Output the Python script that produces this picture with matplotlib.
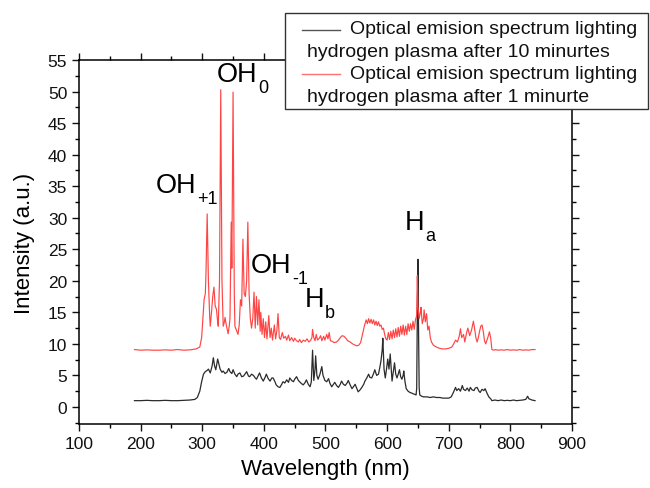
import matplotlib
matplotlib.use("Agg")
import matplotlib.pyplot as plt
from matplotlib.lines import Line2D
from matplotlib.patches import Rectangle
from matplotlib.ticker import MultipleLocator

plt.rcParams['font.family'] = ['Liberation Sans', 'DejaVu Sans']

# ---- data: 10 minutes (black) ----
wl_10min = [190, 200, 210, 220, 230, 240, 250, 260, 270, 280, 288, 292, 296, 299, 302, 305, 308, 310, 313, 316,
            318, 320, 322, 325, 327, 329, 332, 334, 337, 340, 343, 345, 348, 350, 353, 356, 358, 361, 364, 367,
            370, 372, 375, 377, 380, 383, 386, 388, 391, 393, 396, 399, 402, 404, 407, 410, 413, 415, 418, 420,
            423, 426, 429, 431, 434, 437, 440, 442, 445, 448, 450, 453, 456, 458, 461, 464, 467, 469, 472, 475,
            477, 479, 481, 483, 484, 486, 488, 491, 494, 496, 499, 502, 505, 507, 510, 513, 515, 518, 521, 524,
            526, 529, 532, 535, 537, 540, 543, 546, 548, 551, 553, 556, 559, 562, 564, 567, 570, 572, 575, 578,
            580, 583, 586, 588, 590, 592, 593, 595, 597, 599, 601, 603, 605, 607, 608, 610, 612, 614, 616, 618,
            620, 622, 624, 626, 627, 629, 631, 634, 637, 640, 642, 645, 647, 648, 649, 650, 651, 652, 653, 656,
            659, 665, 670, 675, 680, 686, 690, 695, 700, 704, 708, 711, 713, 716, 719, 722, 724, 727, 730, 733,
            735, 738, 741, 743, 746, 749, 751, 754, 757, 759, 762, 765, 768, 770, 775, 780, 785, 790, 795, 800,
            805, 810, 815, 820, 825, 828, 830, 835, 840]
int_10min = [1.0, 1.0, 1.05, 1.0, 1.0, 1.05, 1.0, 1.0, 1.05, 1.1, 1.2, 1.5, 2.5, 4.0, 5.2, 5.6, 5.8, 6.0, 5.4, 6.5,
             7.8, 6.5, 5.9, 7.6, 6.8, 6.0, 5.5, 5.7, 5.3, 5.5, 6.1, 5.6, 5.3, 5.9, 5.2, 4.8, 5.2, 5.4, 4.8, 4.9,
             5.3, 5.6, 4.9, 4.8, 5.2, 5.0, 4.6, 4.4, 5.0, 5.4, 4.6, 4.1, 4.7, 5.2, 4.5, 4.1, 4.6, 4.6, 4.0, 3.5,
             3.2, 3.1, 3.6, 4.0, 3.8, 4.3, 3.9, 4.6, 4.2, 4.0, 4.4, 4.8, 4.2, 4.0, 3.7, 3.5, 3.9, 4.3, 3.6, 3.2,
             4.0, 9.0, 4.2, 6.0, 8.1, 5.0, 4.4, 5.2, 6.4, 5.0, 4.2, 4.0, 4.5, 3.8, 3.2, 3.6, 3.9, 3.4, 3.1, 3.6,
             4.1, 3.6, 3.4, 3.8, 4.2, 3.5, 2.9, 3.3, 3.6, 2.9, 2.4, 2.7, 3.1, 3.6, 4.1, 4.6, 5.2, 4.7, 4.6, 5.3,
             5.9, 5.0, 5.2, 6.2, 7.3, 9.0, 10.9, 6.0, 4.6, 6.0, 7.6, 6.0, 8.4, 5.5, 4.1, 5.5, 7.0, 5.2, 4.6, 5.2,
             5.9, 4.8, 4.4, 5.0, 5.7, 4.0, 2.9, 2.5, 2.3, 2.2, 2.1, 2.0, 1.9, 3.0, 15.0, 23.4, 12.0, 3.0, 1.9, 1.7,
             1.6, 1.6, 1.5, 1.6, 1.5, 1.5, 1.4, 1.4, 1.4, 1.6, 2.4, 3.1, 2.6, 2.9, 2.5, 3.4, 2.8, 2.6, 3.0, 2.5,
             3.1, 2.7, 2.6, 3.0, 3.1, 2.5, 2.3, 2.8, 2.6, 2.9, 2.2, 1.6, 1.3, 1.0, 1.1, 1.0, 1.1, 1.0, 1.05, 1.0,
             1.1, 1.0, 1.05, 1.1, 1.2, 1.7, 1.3, 1.1, 1.0]

# ---- data: 1 minute (red) ----
wl_1min = [190, 200, 210, 220, 230, 240, 250, 260, 270, 280, 290, 296, 299, 301, 303, 305, 306, 308, 310, 312,
           313, 315, 317, 319, 321, 323, 325, 326, 328, 330, 332, 334, 336, 337, 339, 342, 344, 345, 347, 348,
           350, 352, 353, 356, 358, 360, 362, 364, 366, 368, 370, 372, 374, 376, 378, 380, 382, 384, 386, 388,
           390, 392, 394, 395, 397, 399, 401, 403, 405, 408, 410, 412, 414, 417, 419, 421, 423, 425, 427, 430,
           432, 435, 437, 440, 442, 445, 448, 450, 453, 456, 458, 461, 464, 467, 470, 473, 476, 478, 479, 481,
           483, 485, 487, 490, 492, 494, 497, 499, 502, 504, 506, 508, 511, 514, 518, 521, 524, 527, 530, 533,
           536, 540, 544, 548, 551, 554, 557, 560, 563, 566, 568, 570, 572, 574, 576, 578, 580, 582, 584, 586,
           588, 590, 592, 594, 596, 598, 600, 602, 604, 606, 608, 610, 612, 614, 616, 618, 620, 622, 624, 626,
           628, 630, 632, 634, 636, 638, 640, 642, 644, 646, 648, 649, 650, 652, 654, 655, 657, 659, 660, 662,
           664, 666, 668, 670, 672, 675, 680, 685, 690, 695, 700, 705, 708, 711, 714, 717, 719, 721, 724, 726,
           729, 731, 734, 737, 740, 742, 744, 746, 748, 750, 752, 754, 756, 758, 760, 762, 764, 766, 768, 770,
           773, 776, 780, 785, 790, 795, 800, 805, 810, 815, 820, 825, 830, 835, 840]
int_1min = [9.1, 9.0, 9.05, 9.0, 9.0, 9.05, 9.0, 9.1, 9.0, 9.05, 9.2, 9.5, 11.0, 14.0, 17.0, 18.0, 21.0, 30.6, 20.0, 14.5,
            12.8, 15.0, 17.5, 19.0, 16.0, 15.5, 13.5, 12.8, 20.0, 50.3, 20.0, 12.8, 13.5, 14.2, 13.0, 11.6, 13.0, 14.0, 29.3, 22.0,
            49.9, 18.0, 12.8, 12.0, 11.5, 13.0, 17.0, 16.0, 26.6, 18.0, 17.5, 20.0, 29.3, 18.0, 14.0, 12.5, 14.0, 18.2, 12.5, 17.5,
            13.0, 17.0, 12.0, 15.0, 11.5, 14.0, 11.0, 13.5, 10.8, 14.5, 11.0, 12.5, 10.6, 13.0, 10.8, 12.0, 14.8, 11.0, 10.7, 11.8,
            10.9, 11.2, 10.6, 11.4, 10.5, 11.0, 10.4, 10.9, 10.5, 10.3, 10.7, 10.2, 10.6, 10.4, 10.8, 10.3, 10.6, 11.0, 12.3, 11.0,
            10.5, 11.5, 10.6, 10.9, 11.3, 10.5, 11.2, 10.6, 11.5, 10.8, 11.8, 10.5, 10.4, 10.2, 10.3, 10.6, 11.0, 11.3, 11.2, 10.9,
            10.5, 10.3, 10.0, 9.8, 9.7, 9.8, 10.2, 11.5, 12.8, 13.8, 13.2, 14.0, 13.3, 13.9, 13.2, 13.8, 13.0, 13.6, 12.9, 13.5,
            12.8, 13.0, 12.3, 12.5, 11.5, 10.8, 10.6, 11.8, 10.7, 12.0, 10.8, 12.2, 11.0, 12.4, 11.1, 12.6, 11.2, 12.8, 11.5, 13.0,
            11.4, 12.8, 11.5, 13.2, 12.0, 13.2, 12.2, 13.6, 12.3, 13.8, 14.5, 20.8, 16.0, 14.0, 15.0, 15.8, 13.2, 14.0, 15.4, 13.5,
            14.8, 12.2, 12.8, 11.0, 10.3, 9.8, 9.5, 9.3, 9.2, 9.2, 9.3, 9.5, 10.0, 10.6, 10.3, 11.2, 12.4, 11.0, 11.5, 10.3,
            11.8, 12.5, 11.3, 12.2, 13.6, 12.4, 11.0, 10.3, 11.0, 12.0, 12.8, 13.0, 12.0, 10.5, 10.0, 10.6, 11.2, 11.9, 11.0, 9.1,
            9.0, 9.1, 9.0, 9.05, 9.0, 9.1, 9.0, 9.05, 9.0, 9.1, 9.0, 9.05, 9.0, 9.1, 9.1]

legend_labels = ["Optical emision spectrum lighting", "hydrogen plasma after 10 minurtes",
                 "Optical emision spectrum lighting", "hydrogen plasma after 1 minurte"]

# peak annotations: main text, subscript, x (left), y (baseline)
peak_main = ["OH", "OH", "OH", "H", "H"]
peak_sub = ["+1", "0", "-1", "b", "a"]
peak_x = [224, 324, 379, 466, 629]
peak_y = [34.0, 51.6, 21.4, 16.0, 28.2]

W, H = 650, 489
fig = plt.figure(figsize=(6.5, 4.89), dpi=100)
ax = fig.add_axes([79 / W, 1 - 425 / H, (572 - 79) / W, (425 - 61) / H])

ax.plot(wl_10min, int_10min, color='#2b2b2b', lw=0.9)
ax.plot(wl_1min, int_1min, color='#ff4444', lw=0.85)

ax.set_xlim(100, 900)
ax.set_ylim(-2.7, 55)
ax.xaxis.set_major_locator(MultipleLocator(100))
ax.xaxis.set_minor_locator(MultipleLocator(50))
ax.yaxis.set_major_locator(MultipleLocator(5))
ax.yaxis.set_minor_locator(MultipleLocator(2.5))
ax.tick_params(which='major', direction='out', length=5, width=1, labelsize=12.5, top=True, right=True,
               colors='#111111')
ax.tick_params(which='minor', direction='out', length=3, width=1, top=True, right=True)
for s in ax.spines.values():
    s.set_linewidth(1.1)
ax.set_xlabel("Wavelength (nm)", fontsize=16, labelpad=5)
ax.set_ylabel("Intensity (a.u.)", fontsize=16, labelpad=9)

for m, sub, x, y in zip(peak_main, peak_sub, peak_x, peak_y):
    t = ax.text(x, y, m, fontsize=19.5, ha='left', va='baseline', color='black')
    ax.annotate(sub, xy=(1, 0), xycoords=t, xytext=(0.5, -3.5), textcoords='offset points',
                fontsize=13, ha='left', va='baseline', color='black')

# manual legend (Origin style)
def fx(px):
    return px / W

def fy(py):
    return 1 - py / H

fig.patches.append(Rectangle((fx(285), fy(110)), fx(648) - fx(285), fy(14) - fy(110),
                             transform=fig.transFigure, facecolor='white', edgecolor='#333333',
                             lw=1.0, zorder=5))
fig.lines.append(Line2D([fx(302), fx(340)], [fy(31), fy(31)], transform=fig.transFigure,
                        color='#555555', lw=1.0, zorder=6))
fig.lines.append(Line2D([fx(302), fx(340)], [fy(75), fy(75)], transform=fig.transFigure,
                        color='#ff7070', lw=1.0, zorder=6))
text_pos = [(350, 30), (307, 52.5), (350, 74.5), (307, 97)]
for lab, (px, py) in zip(legend_labels, text_pos):
    fig.text(fx(px), fy(py), lab, fontsize=14, ha='left', va='center', color='#111111', zorder=7)

fig.savefig("out.png", dpi=100)
